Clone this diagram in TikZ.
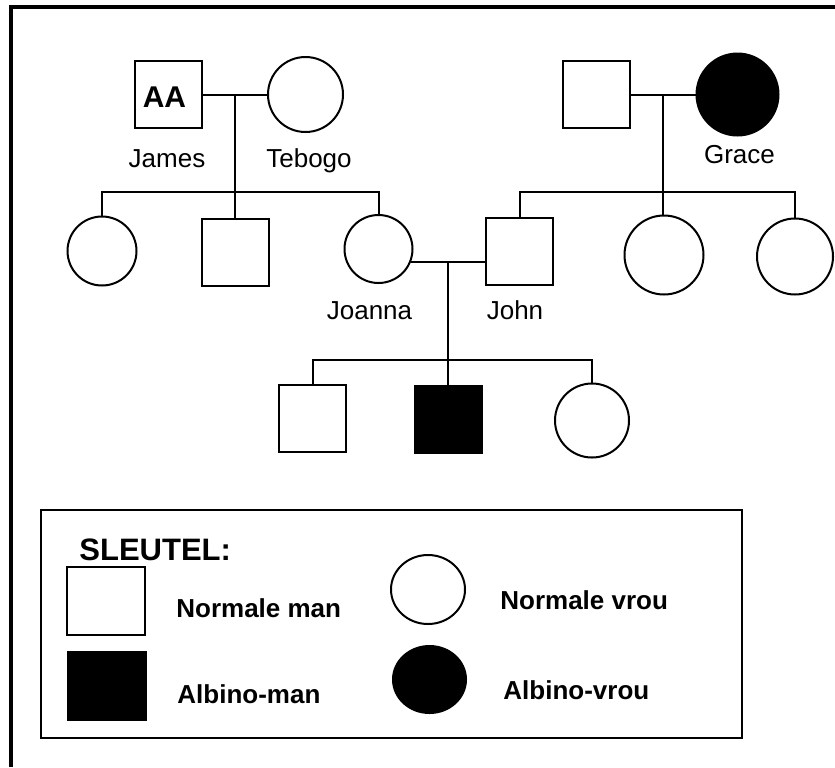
\documentclass[tikz,border=0pt]{standalone}
\usepackage{fontspec}
\setmainfont{Liberation Sans}
\usetikzlibrary{shapes,positioning,calc}

\tikzset{
    male/.style={draw, rectangle, line width=1pt, minimum size=33.5pt, inner sep=0pt},
    female/.style={draw, circle, line width=1pt, inner sep=0pt},
    albino/.style={fill=black},
    pname/.style={anchor=base, inner sep=0pt, font=\fontsize{13}{15}\selectfont},
    keytext/.style={anchor=base west, inner sep=0pt, font=\fontsize{13}{15}\selectfont\bfseries},
    tie/.style={line width=1pt}
}

\begin{document}
\begin{tikzpicture}[x=0.5pt, y=-0.5pt]
    \useasboundingbox (0,0) rectangle (835,767);
    \draw [line width=2pt] (11,767) -- (11,7) -- (835,7);
    \coordinate (rowA) at (0,192);
    \coordinate (rowB) at (0,360);

    % James and Tebogo
    \node [male] (james) at (168.5,94.5) {};
    \node [font=\fontsize{15}{17}\selectfont\bfseries, anchor=base, inner sep=0pt] (jamesAA) at (164.5,107) {AA};
    \node [female, minimum size=37.5pt] (tebogo) at (305.5,94.5) {};
    \node [pname] (jamesL) at (167,167) {James};
    \node [pname] (tebogoL) at (309,167) {Tebogo};

    % Grace and husband
    \node [male] (husb) at (596.5,94.5) {};
    \node [female, albino, minimum size=41pt] (grace) at (737.5,94.5) {};
    \node [pname] (graceL) at (739.5,163) {Grace};

    % Children
    \node [female, minimum size=34.5pt] (kid1) at (102,251) {};
    \node [male] (kid2) at (235,252) {};
    \node [female, minimum size=34pt] (joanna) at (378.5,249) {};
    \node [male] (john) at (519.5,251) {};
    \node [female, minimum size=39.5pt] (kid5) at (664,255) {};
    \node [female, minimum size=38pt] (kid6) at (795,256.5) {};
    \node [pname] (joannaL) at (369.5,319) {Joanna};
    \node [pname] (johnL) at (515,319) {John};

    % Grandchildren
    \node [male] (son1) at (312.5,418.5) {};
    \node [male, albino] (son2) at (448,419.5) {};
    \node [female, minimum size=37pt] (dau) at (592,420.5) {};

    % Lines
    \coordinate (jt) at ($(james.east)!0.5!(tebogo.west)$);
    \draw [tie] (james.east) -- (tebogo.west);
    \draw [tie] (jt) -- (jt |- kid2.north);
    \draw [tie] (kid1.north) -- (kid1.north |- rowA) -- (joanna.north |- rowA) -- (joanna.north);

    \coordinate (gh) at ($(husb.east)!0.5!(grace.west)$);
    \draw [tie] (husb.east) -- (grace.west);
    \draw [tie] (gh) -- (gh |- kid5.north);
    \draw [tie] (john.north) -- (john.north |- rowA) -- (kid6.north |- rowA) -- (kid6.north);

    \coordinate (jj) at ($(joanna.-22)!0.5!(john.west |- joanna.-22)$);
    \draw [tie] (joanna.-22) -- (john.west |- joanna.-22);
    \draw [tie] (jj) -- (jj |- son2.north);
    \draw [tie] (son1.north) -- (son1.north |- rowB) -- (dau.north |- rowB) -- (dau.north);

    % Key
    \draw [line width=1pt] (41,510) rectangle (742,738);
    \node [keytext, font=\fontsize{15.5}{18}\selectfont\bfseries] (keyT) at (79,560) {SLEUTEL:};
    \node [male, minimum width=39pt, minimum height=34pt] (keyman) at (106,601) {};
    \node [male, albino, minimum width=39pt, minimum height=34pt] (keyalbman) at (107,686) {};
    \node [draw, ellipse, line width=1pt, inner sep=0pt, minimum width=37pt, minimum height=34.5pt] (keyvrou) at (428,589.5) {};
    \node [draw, ellipse, albino, line width=1pt, inner sep=0pt, minimum width=36.5pt, minimum height=33.5pt] (keyalbvrou) at (429.5,679.5) {};
    \node [keytext] (keymanL) at (176,617) {Normale man};
    \node [keytext] (keyalbmanL) at (177,703) {Albino-man};
    \node [keytext] (keyvrouL) at (500,609) {Normale vrou};
    \node [keytext] (keyalbvrouL) at (503,699) {Albino-vrou};
\end{tikzpicture}
\end{document}
